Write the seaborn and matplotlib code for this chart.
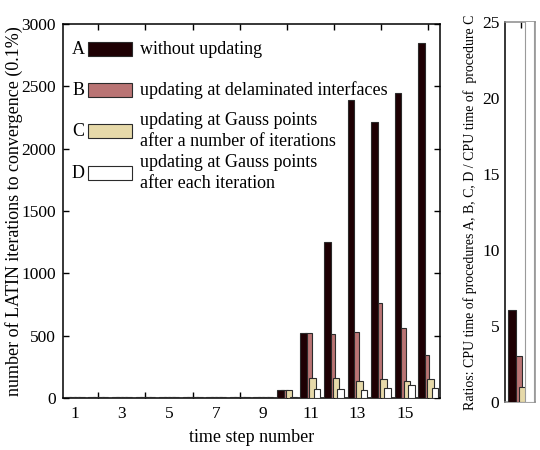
import numpy as np
import pandas as pd
import matplotlib
matplotlib.use("Agg")
import matplotlib.pyplot as plt
import seaborn as sns
from matplotlib.patches import Rectangle
from matplotlib.ticker import FixedLocator, NullFormatter

sns.set_theme(style="white")
plt.rcParams['font.family'] = ['Liberation Serif', 'DejaVu Serif']
plt.rcParams['mathtext.fontset'] = 'stix'

# ---------------- data ----------------
steps = list(range(1, 17))
proc_a = [12, 12, 12, 12, 12, 12, 12, 12, 12, 68, 520, 1255, 2390, 2210, 2450, 2850]
proc_b = [10, 10, 10, 10, 10, 10, 10, 10, 10, 68, 520, 515, 530, 765, 560, 345]
proc_c = [8, 8, 8, 8, 8, 8, 8, 8, 8, 68, 160, 160, 140, 150, 140, 152]
proc_d = [6, 6, 6, 6, 6, 6, 6, 6, 6, 5, 72, 72, 65, 80, 105, 78]

procedures = ["A", "B", "C", "D"]
proc_labels = ["without updating",
               "updating at delaminated interfaces",
               "updating at Gauss points\nafter a number of iterations",
               "updating at Gauss points\nafter each iteration"]
ratio_values = [6.05, 3.0, 1.0, 50.0]   # D exceeds the axis (clipped)

colors = ["#1e0003", "#b97474", "#e6d9a9", "#ffffff"]
edge = "#2b2b2b"

df = pd.DataFrame({
    "step": steps * 4,
    "iterations": proc_a + proc_b + proc_c + proc_d,
    "proc": sum([[p] * len(steps) for p in procedures], []),
})
df_ratio = pd.DataFrame({"group": ["x"] * 4, "ratio": ratio_values, "proc": procedures})

fig = plt.figure(figsize=(5.4, 4.5), dpi=100)
ax = fig.add_axes([63 / 540, 1 - 398 / 450, 377 / 540, 374 / 450])
ax2 = fig.add_axes([505 / 540, 1 - 401.7 / 450, 30 / 540, 379.4 / 450])

pal = dict(zip(procedures, colors))
sns.barplot(data=df, x="step", y="iterations", hue="proc", hue_order=procedures,
            palette=pal, width=0.75, edgecolor=edge, linewidth=0.8,
            saturation=1, errorbar=None, legend=False, ax=ax)
sns.barplot(data=df_ratio, x="group", y="ratio", hue="proc", hue_order=procedures,
            palette=pal, width=0.75, edgecolor=edge, linewidth=0.8,
            saturation=1, errorbar=None, legend=False, ax=ax2)

zorders = {0: 3.0, 1: 2.6, 2: 2.7, 3: 2.8}
def widen(axis, n_per_hue, factor=1.5):
    bars = [p for p in axis.patches if isinstance(p, Rectangle)]
    for i, p in enumerate(bars):
        c = p.get_x() + p.get_width() / 2
        w = p.get_width() * factor
        p.set_width(w)
        p.set_x(c - w / 2)
        p.set_zorder(zorders[i // n_per_hue])
    return bars

widen(ax, len(steps))
bars2 = widen(ax2, 1)
for p in bars2[3:]:
    p.set_edgecolor("#9a9a9a")

# ---------------- main axes styling ----------------
ax.set_xlim(-0.5, 15.5)
ax.set_ylim(0, 3000)
ax.set_xlabel("")
ax.set_ylabel("")
ax.xaxis.set_major_locator(FixedLocator(list(range(0, 16, 2))))
ax.set_xticklabels([str(s) for s in steps[::2]])
ax.xaxis.set_minor_locator(FixedLocator(list(range(1, 16, 2))))
ax.xaxis.set_minor_formatter(NullFormatter())
ax.set_yticks(range(0, 3001, 500))
ax.tick_params(axis="x", which="major", length=0, labelsize=12.5, pad=6, colors="black")
ax.tick_params(axis="x", which="minor", direction="in", length=4, width=1,
               top=True, bottom=True, colors="black")
ax.tick_params(axis="y", which="major", direction="in", length=4, width=1,
               left=True, right=True, labelsize=12.5, pad=5, colors="black")
for s in ax.spines.values():
    s.set_color("black")
    s.set_linewidth(1.1)

# legend drawn by hand (letters + swatches + text)
rows_y = [0.933, 0.8235, 0.7139, 0.6016]
for y, p, lab, col in zip(rows_y, procedures, proc_labels, colors):
    ax.text(0.040, y, p, transform=ax.transAxes, ha="center", va="center",
            fontsize=13, color="black")
    ax.add_patch(Rectangle((0.0663, y - 0.0187), 0.1167, 0.0374,
                           transform=ax.transAxes, facecolor=col,
                           edgecolor=edge, linewidth=0.8, clip_on=False, zorder=5))
    ax.text(0.204, y, lab, transform=ax.transAxes, ha="left", va="center",
            fontsize=13, color="black", linespacing=1.32)

fig.text(251.5 / 540, 1 - 437 / 450, "time step number", ha="center", va="center",
         fontsize=13, color="black")
fig.text(14 / 540, 1 - 211 / 450, "number of LATIN iterations to convergence (0.1%)",
         ha="center", va="center", rotation=90, fontsize=13, color="black")

# ---------------- ratio axes styling ----------------
ax2.set_xlim(-0.516, 0.47)
ax2.set_ylim(0, 25)
ax2.set_xlabel("")
ax2.set_ylabel("")
ax2.set_xticks([0])
ax2.set_xticklabels([])
ax2.set_yticks(range(0, 26, 5))
ax2.tick_params(axis="x", direction="in", length=4, width=1, top=True, bottom=False,
                colors="black")
ax2.tick_params(axis="y", length=0, labelsize=12.5, pad=4, colors="black")
for name, s in ax2.spines.items():
    s.set_linewidth(1.1)
    s.set_color("black" if name == "left" else "#8a8a8a")

fig.text(470 / 540, 1 - 212 / 450,
         "Ratios: CPU time of procedures A, B, C, D / CPU time of  procedure C",
         ha="center", va="center", rotation=90, fontsize=10, color="black")

fig.savefig("out.png", dpi=100, facecolor="white")
